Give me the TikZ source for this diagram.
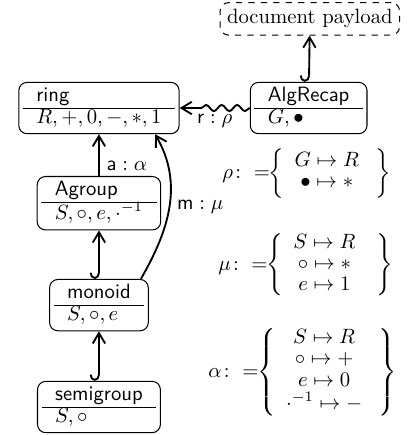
\documentclass[tikz,border=0pt]{standalone}
\usepackage{amsmath}
\usetikzlibrary{arrows.meta, decorations.pathmorphing}
\renewcommand{\arraystretch}{0.85}
\setlength{\tabcolsep}{6.5pt}
\newcommand{\thy}[2]{\begin{tabular}{l}\textsf{#1}\\\hline$#2$\end{tabular}}

\begin{document}
\begin{tikzpicture}[line width=0.5pt,
    >={Straight Barb[length=5pt,width=6pt]},
    theory/.style={draw, rounded corners=4pt, inner sep=2pt},
    incl/.style={{Hooks[right,length=3pt,width=9pt]}->, line width=0.9pt},
    view/.style={->, line width=0.9pt}]
  \useasboundingbox (0,0) rectangle (6.91,-7.385);
  % teorias
  \node[theory] (ring) at (1.68,-1.834) {\thy{ring}{R,+,0,-,*,1}};
  \node[theory] (alg) at (5.24,-1.834) {\thy{AlgRecap}{G,\bullet}};
  \node[draw, dashed, rounded corners=4pt] (payload) at (5.26,-0.32) {document payload};
  \node[theory] (agroup) at (1.68,-3.45) {\thy{Agroup}{S,\circ,e,\cdot^{-1}}};
  \node[theory] (monoid) at (1.68,-5.18) {\thy{monoid}{S,\circ,e}};
  \node[theory] (semigroup) at (1.68,-6.91) {\thy{semigroup}{S,\circ}};
  % inclusiones
  \draw[incl] (semigroup) -- (monoid);
  \draw[incl] (monoid) -- (agroup);
  \draw[incl] (alg) -- (payload);
  % vistas
  \draw[view] (agroup) -- node[right, pos=0.25]{$\mathsf{a}:\alpha$} (ring);
  \draw[view] (monoid.32) to[out=60, in=-60] node[right, pos=0.5]{$\mathsf{m}:\mu$} (ring.-25);
  \draw[view, decorate, decoration={snake, amplitude=1.5pt, segment length=7.5pt, post length=9pt}]
    (alg) -- node[below, inner sep=2.5pt]{$\mathsf{r}:\rho$} (ring);
  % asignaciones
  \node[anchor=west] (rho) at (3.65,-2.94)
    {$\rho\colon =\!\!\left\{\begin{array}{c} G\mapsto R\\ \bullet\mapsto *\end{array}\hspace{3pt}\right\}$};
  \node[anchor=west] (mu) at (3.58,-4.50)
    {$\mu\colon =\!\!\left\{\begin{array}{c} S\mapsto R\\ \circ\mapsto *\\ e\mapsto 1\end{array}\hspace{5pt}\right\}$};
  \node[anchor=west] (alpha) at (3.41,-6.32)
    {$\alpha\colon =\!\!\left\{\begin{array}{c} S\mapsto R\\ \circ\mapsto +\\ e\mapsto 0\\ \cdot^{-1}\mapsto -\end{array}\hspace{3pt}\right\}$};
\end{tikzpicture}
\end{document}
